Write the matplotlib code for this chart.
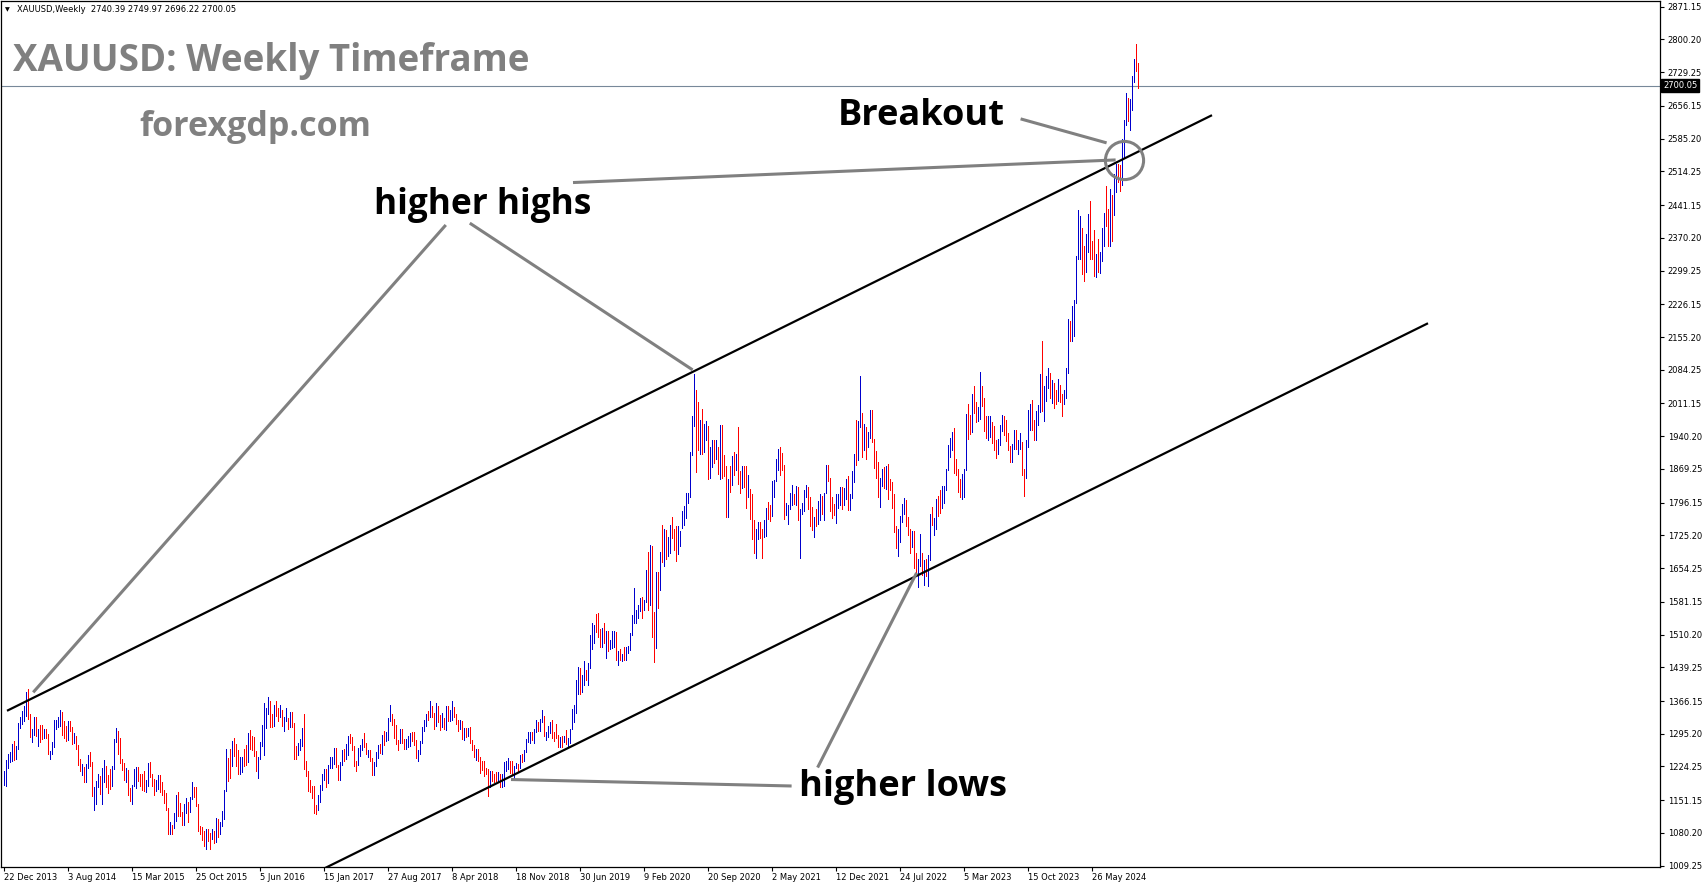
import matplotlib
matplotlib.use("Agg")
import matplotlib.pyplot as plt
from matplotlib.transforms import blended_transform_factory

# ---------------- data ----------------
header = "XAUUSD,Weekly  2740.39 2749.97 2696.22 2700.05"
title = "XAUUSD: Weekly Timeframe"
site = "forexgdp.com"

# weekly highs / lows, week of 22 Dec 2013 ... week of 3 Nov 2024
highs = [
    1215, 1239,
    1251, 1255, 1272, 1280, 1268, 1318, 1332, 1345, 1355, 1385, 1392, 1339, 1305, 1331, 1331, 1305, 1315, 1315, 1305, 1306,
    1295, 1257, 1278, 1325, 1325, 1332, 1346, 1342, 1323, 1312, 1322, 1322, 1310, 1297, 1290, 1270, 1240, 1230, 1223, 1230,
    1249, 1256, 1234, 1180, 1192, 1207, 1203, 1222, 1238, 1225, 1205, 1219,
    1225, 1283, 1307, 1301, 1285, 1240, 1232, 1222, 1217, 1177, 1185, 1219, 1224, 1224, 1209, 1209, 1215, 1196, 1232, 1233,
    1209, 1197, 1194, 1206, 1205, 1191, 1174, 1167, 1134, 1105, 1098, 1124, 1162, 1170, 1146, 1126, 1143, 1157, 1147, 1159,
    1191, 1180, 1180, 1142, 1096, 1093, 1085, 1088, 1088, 1081, 1088, 1085,
    1112, 1110, 1104, 1128, 1174, 1263, 1243, 1262, 1280, 1287, 1273, 1259, 1244, 1244, 1262, 1271, 1297, 1304, 1290, 1289,
    1258, 1245, 1277, 1315, 1362, 1350, 1375, 1367, 1338, 1357, 1367, 1352, 1358, 1346, 1331, 1352, 1329, 1343, 1343, 1318,
    1268, 1275, 1284, 1308, 1338, 1237, 1214, 1194, 1181, 1182, 1141, 1163,
    1184, 1207, 1219, 1219, 1227, 1244, 1245, 1264, 1264, 1228, 1234, 1261, 1262, 1274, 1291, 1295, 1289, 1269, 1237, 1264,
    1270, 1283, 1296, 1275, 1260, 1260, 1242, 1235, 1256, 1270, 1274, 1292, 1301, 1300, 1330, 1357, 1338, 1327, 1314, 1282,
    1306, 1306, 1283, 1284, 1290, 1297, 1299, 1299, 1282, 1260, 1279, 1309, 1326,
    1338, 1345, 1366, 1355, 1340, 1362, 1356, 1336, 1341, 1329, 1356, 1355, 1346, 1366, 1354, 1339, 1326, 1326, 1322, 1307,
    1308, 1308, 1309, 1281, 1271, 1262, 1262, 1245, 1236, 1236, 1220, 1219, 1215, 1214, 1207, 1213, 1212, 1207, 1209, 1233,
    1236, 1243, 1237, 1237, 1226, 1231, 1230, 1250, 1251, 1261, 1284, 1299,
    1298, 1299, 1305, 1326, 1320, 1327, 1346, 1334, 1300, 1311, 1320, 1324, 1300, 1316, 1292, 1289, 1290, 1291, 1304, 1287,
    1306, 1348, 1358, 1411, 1439, 1437, 1422, 1452, 1434, 1448, 1510, 1535, 1530, 1555, 1557, 1522, 1524, 1535, 1519, 1517,
    1499, 1518, 1519, 1515, 1474, 1479, 1468, 1484, 1483, 1486, 1514, 1553,
    1611, 1563, 1575, 1589, 1592, 1585, 1650, 1689, 1704, 1703, 1560, 1645, 1645, 1690, 1747, 1739, 1737, 1722, 1748, 1765,
    1738, 1745, 1745, 1735, 1779, 1788, 1818, 1818, 1906, 1984, 2075, 2040, 2015, 1976, 2000, 1966, 1973, 1963, 1917, 1933,
    1933, 1931, 1916, 1965, 1965, 1900, 1875, 1848, 1875, 1897, 1907, 1902,
    1960, 1864, 1875, 1875, 1875, 1855, 1826, 1815, 1759, 1740, 1755, 1755, 1740, 1758, 1784, 1798, 1790, 1843, 1846, 1890,
    1913, 1916, 1903, 1878, 1795, 1790, 1818, 1834, 1815, 1832, 1830, 1782, 1795, 1823, 1834, 1831, 1809, 1787, 1765, 1782,
    1800, 1814, 1810, 1818, 1877, 1877, 1850, 1808, 1793, 1815, 1814, 1831,
    1830, 1828, 1848, 1853, 1815, 1865, 1902, 1975, 1974, 2070, 1990, 1966, 1960, 1950, 1998, 1998, 1934, 1909, 1884, 1849,
    1870, 1874, 1876, 1879, 1847, 1841, 1814, 1746, 1739, 1767, 1794, 1807, 1802, 1765, 1740, 1735, 1735, 1688, 1675, 1729,
    1686, 1671, 1675, 1682, 1772, 1786, 1763, 1804, 1810, 1824, 1833, 1833,
    1870, 1922, 1937, 1949, 1959, 1890, 1870, 1847, 1858, 1870, 1989, 2009, 1986, 2032, 2048, 2015, 2003, 2079, 2048, 2022,
    1985, 1983, 1983, 1971, 1962, 1933, 1935, 1964, 1987, 1983, 1975, 1948, 1919, 1924, 1953, 1953, 1932, 1947, 1927, 1870,
    1933, 1997, 2009, 2019, 1976, 1994, 2008, 2075, 2146, 2048, 2070, 2088, 2078,
    2062, 2056, 2041, 2065, 2052, 2031, 2041, 2088, 2195, 2189, 2222, 2236, 2330, 2431, 2418, 2392, 2353, 2378, 2422, 2450,
    2364, 2388, 2336, 2368, 2340, 2392, 2424, 2483, 2432, 2477, 2462, 2509, 2531, 2531, 2529, 2585, 2625, 2685, 2673, 2672,
    2722, 2758, 2790, 2750,
]
lows = [
    1185, 1182,
    1221, 1235, 1237, 1238, 1240, 1262, 1307, 1317, 1322, 1334, 1327, 1288, 1277, 1292, 1290, 1268, 1277, 1284, 1287, 1285,
    1251, 1240, 1251, 1266, 1305, 1310, 1311, 1292, 1287, 1280, 1281, 1302, 1273, 1275, 1262, 1227, 1214, 1205, 1190, 1191,
    1220, 1226, 1160, 1131, 1143, 1180, 1165, 1142, 1191, 1180, 1167, 1175,
    1183, 1219, 1278, 1252, 1231, 1216, 1196, 1191, 1163, 1150, 1142, 1183, 1178, 1192, 1183, 1174, 1171, 1170, 1183, 1202,
    1182, 1162, 1171, 1175, 1168, 1162, 1146, 1130, 1077, 1077, 1077, 1091, 1106, 1118, 1117, 1098, 1098, 1123, 1105, 1126,
    1153, 1159, 1139, 1085, 1077, 1066, 1052, 1046, 1062, 1046, 1067, 1059,
    1061, 1071, 1078, 1096, 1111, 1172, 1192, 1200, 1225, 1247, 1226, 1208, 1208, 1212, 1225, 1227, 1234, 1262, 1260, 1247,
    1215, 1200, 1240, 1269, 1250, 1307, 1338, 1310, 1310, 1311, 1333, 1323, 1332, 1312, 1301, 1323, 1305, 1309, 1310, 1241,
    1241, 1250, 1260, 1269, 1219, 1204, 1172, 1170, 1157, 1123, 1122, 1130,
    1147, 1174, 1195, 1180, 1189, 1220, 1220, 1230, 1224, 1194, 1195, 1227, 1237, 1240, 1250, 1275, 1259, 1226, 1214, 1227,
    1247, 1259, 1267, 1252, 1245, 1236, 1205, 1206, 1226, 1243, 1254, 1251, 1270, 1280, 1282, 1322, 1315, 1287, 1274, 1260,
    1275, 1276, 1262, 1263, 1266, 1268, 1279, 1271, 1243, 1236, 1252, 1276, 1302,
    1312, 1325, 1331, 1331, 1306, 1312, 1321, 1303, 1310, 1306, 1303, 1322, 1323, 1325, 1332, 1316, 1302, 1306, 1283, 1282,
    1289, 1290, 1276, 1261, 1245, 1238, 1237, 1211, 1217, 1204, 1208, 1160, 1180, 1193, 1190, 1193, 1192, 1180, 1180, 1182,
    1214, 1218, 1211, 1207, 1196, 1220, 1212, 1221, 1233, 1236, 1256, 1277,
    1276, 1281, 1275, 1298, 1301, 1302, 1321, 1290, 1281, 1288, 1296, 1286, 1280, 1287, 1266, 1266, 1266, 1278, 1274, 1266,
    1275, 1305, 1320, 1340, 1382, 1381, 1386, 1400, 1411, 1400, 1437, 1480, 1492, 1515, 1506, 1484, 1483, 1492, 1459, 1474,
    1479, 1481, 1484, 1456, 1445, 1456, 1452, 1456, 1456, 1470, 1477, 1509,
    1536, 1535, 1546, 1562, 1547, 1563, 1580, 1563, 1575, 1504, 1451, 1482, 1567, 1606, 1668, 1659, 1673, 1681, 1688, 1719,
    1693, 1670, 1684, 1703, 1742, 1747, 1763, 1795, 1808, 1900, 1963, 1863, 1911, 1902, 1902, 1906, 1931, 1848, 1849, 1873,
    1882, 1890, 1859, 1848, 1850, 1854, 1764, 1765, 1819, 1835, 1855, 1868,
    1836, 1817, 1828, 1831, 1785, 1808, 1760, 1717, 1687, 1676, 1718, 1720, 1677, 1721, 1723, 1760, 1756, 1768, 1808, 1843,
    1866, 1855, 1866, 1761, 1770, 1750, 1783, 1791, 1794, 1791, 1759, 1677, 1772, 1777, 1808, 1782, 1745, 1737, 1721, 1746,
    1750, 1759, 1771, 1758, 1817, 1843, 1778, 1762, 1770, 1753, 1785, 1790,
    1782, 1792, 1804, 1780, 1780, 1807, 1841, 1878, 1889, 1961, 1895, 1910, 1890, 1916, 1937, 1928, 1872, 1850, 1808, 1786,
    1832, 1828, 1825, 1805, 1823, 1784, 1733, 1697, 1680, 1711, 1754, 1771, 1745, 1727, 1688, 1700, 1654, 1639, 1614, 1659,
    1640, 1617, 1637, 1616, 1672, 1747, 1727, 1740, 1768, 1773, 1785, 1795,
    1823, 1867, 1896, 1911, 1861, 1855, 1819, 1809, 1805, 1809, 1867, 1934, 1944, 1950, 1991, 1970, 1974, 1977, 2005, 1952,
    1937, 1932, 1939, 1925, 1910, 1893, 1902, 1922, 1951, 1942, 1929, 1911, 1885, 1884, 1912, 1913, 1901, 1913, 1857, 1810,
    1850, 1917, 1953, 1953, 1932, 1932, 1965, 1993, 1994, 1973, 2016, 2045, 2024,
    2013, 2001, 2010, 2016, 2014, 1984, 2009, 2024, 2078, 2146, 2146, 2158, 2228, 2325, 2324, 2291, 2277, 2296, 2339, 2325,
    2325, 2287, 2286, 2296, 2293, 2319, 2353, 2396, 2353, 2352, 2364, 2420, 2470, 2491, 2471, 2485, 2546, 2614, 2624, 2603,
    2648, 2708, 2731, 2696,
]
# u = bullish (blue) week, d = bearish (red) week
direction = (
    "uu"
    "uuuduuuuuu" "dduududdud" "duuuuuuddd" "uddudddudu" "udduuuduud" "dd"
    "uuuddddudd" "uuudddduud" "dduudddddu" "duuddduudu" "uddddddudd" "ud"
    "uduuuuddud" "dduudduddd" "duuuuuuddu" "dduduududd" "duuudddddd" "du"
    "uuuduuuudd" "uuduuddddu" "uuddudduuu" "duduuudddd" "udduuudddu" "uuu"
    "ududduddud" "uduudddudu" "dudddudddd" "dduddduduu" "uudduududu" "uu"
    "uduuduuduu" "uddddududu" "uuuuuduudu" "uuudddudud" "uuudududuu" "uu"
    "uuuuduudud" "dudududuud" "dduuuuuuuu" "udduduuduu" "dududddudu" "du"
    "dduddudddu" "udduudduuu" "uddduuuudu" "duuuudddud" "uuduuddddu" "uu"
    "duuduuuduu" "duduuddddu" "ududdddduu" "uudddudduu" "duduuduudd" "uu"
    "uuuudddduu" "uddudduudd" "duuddduuud" "ddduuduudd" "uuudduuudu" "uud"
    "uddudduuud" "uuuuudduud" "dduduuuddu" "duudduuudu" "uudd"
)
assert len(highs) == len(lows) == len(direction)

date_labels = ["22 Dec 2013", "3 Aug 2014", "15 Mar 2015", "25 Oct 2015", "5 Jun 2016",
               "15 Jan 2017", "27 Aug 2017", "8 Apr 2018", "18 Nov 2018", "30 Jun 2019",
               "9 Feb 2020", "20 Sep 2020", "2 May 2021", "12 Dec 2021", "24 Jul 2022",
               "5 Mar 2023", "15 Oct 2023", "26 May 2024"]
date_label_bars = [32 * k for k in range(len(date_labels))]

price_labels = ["2871.15", "2800.20", "2729.25", "2656.15", "2585.20", "2514.25", "2441.15",
                "2370.20", "2299.25", "2226.15", "2155.20", "2084.25", "2011.15", "1940.20",
                "1869.25", "1796.15", "1725.20", "1654.25", "1581.15", "1510.20", "1439.25",
                "1366.15", "1295.20", "1224.25", "1151.15", "1080.20", "1009.25"]
last_price = 2700.05

# channel lines (bar index, price)
upper_channel = ([1.5, 604], [1345, 2636])
lower_channel = ([160, 712], [1003, 2185])

# annotation pointers (bar index, price)
pointers = [
    ([220.9, 14.6], [2398, 1385]),     # higher highs -> 2014 high
    ([232.9, 344.3], [2402, 2084]),    # higher highs -> 2020 high
    ([284.5, 555.8], [2490, 2539]),    # higher highs -> breakout
    ([508.3, 551.3], [2628, 2576]),    # Breakout label
    ([253.5, 393.8], [1196, 1182]),    # higher lows (2018)
    ([406.8, 456.3], [1222, 1644]),    # higher lows (2022)
]
breakout_point = (560.2, 2539)

# ---------------- figure ----------------
W, H = 1705, 888
fig = plt.figure(figsize=(W / 100, H / 100), dpi=100)
ax = fig.add_axes([1 / W, 21 / H, 1659 / W, 866 / H])
ax.set_xlim(-1.5, 828)
ax.set_ylim(1006.4, 2883.5)

idx = list(range(len(highs)))
cols = ["#0000CD" if d == "u" else "#FF0000" for d in direction]
ax.vlines(idx, lows, highs, colors=cols, linewidth=0.72, antialiased=False, zorder=3)

ax.axhline(last_price, color="#778899", lw=0.8, zorder=2)

ax.plot(*upper_channel, color="black", lw=1.6, zorder=4, solid_capstyle="butt")
ax.plot(*lower_channel, color="black", lw=1.6, zorder=4, solid_capstyle="butt")

for xs, ys in pointers:
    ax.plot(xs, ys, color="#808080", lw=2.2, zorder=5, solid_capstyle="butt")
ax.plot([breakout_point[0]], [breakout_point[1]], marker="o", ms=27.5, mfc="none",
        mec="#808080", mew=2.2, zorder=5)

# axes styling
for sp in ax.spines.values():
    sp.set_color("black")
    sp.set_linewidth(0.9)
ax.yaxis.tick_right()
ax.set_yticks([float(s) for s in price_labels])
ax.set_yticklabels(price_labels)
ax.set_xticks(date_label_bars)
ax.set_xticklabels(date_labels)
for lab in ax.get_xticklabels():
    lab.set_horizontalalignment("left")
ax.tick_params(axis="both", direction="out", length=3, width=0.8, colors="black",
               labelsize=6, pad=1.5)
ax.tick_params(axis="y", pad=2.5)
for lab in ax.get_xticklabels() + ax.get_yticklabels():
    lab.set_family("DejaVu Sans")

tr = blended_transform_factory(ax.transAxes, ax.transData)
ax.text(1.0 + 3 / 1659, last_price, f"{last_price:.2f}", transform=tr, ha="left", va="center",
        fontsize=6, color="white", family="DejaVu Sans",
        bbox=dict(boxstyle="square,pad=0.2", fc="black", ec="black"), zorder=10, clip_on=False)


def fx(x):
    return x / W


def fy(y):
    return 1 - y / H


fig.text(fx(5), fy(10), "\u25BC", fontsize=4.5, color="black", va="center", family="DejaVu Sans")
fig.text(fx(17), fy(10), header, fontsize=6.0, color="black", va="center", family="DejaVu Sans")

fig.text(fx(13), fy(71), title, fontsize=26.5, fontweight="bold", color="#808080",
         family="Open Sans", va="baseline")
fig.text(fx(139), fy(135.5), site, fontsize=24.5, fontweight="bold", color="#808080",
         family="Open Sans", va="baseline")

fig.text(fx(838), fy(125), "Breakout", fontsize=26, fontweight="bold", color="black",
         family="Open Sans", va="baseline")
fig.text(fx(374), fy(214), "higher highs", fontsize=25.4, fontweight="bold", color="black",
         family="Open Sans", va="baseline")
fig.text(fx(799), fy(796), "higher lows", fontsize=26, fontweight="bold", color="black",
         family="Open Sans", va="baseline")

fig.savefig("out.png", dpi=100, facecolor="white")
